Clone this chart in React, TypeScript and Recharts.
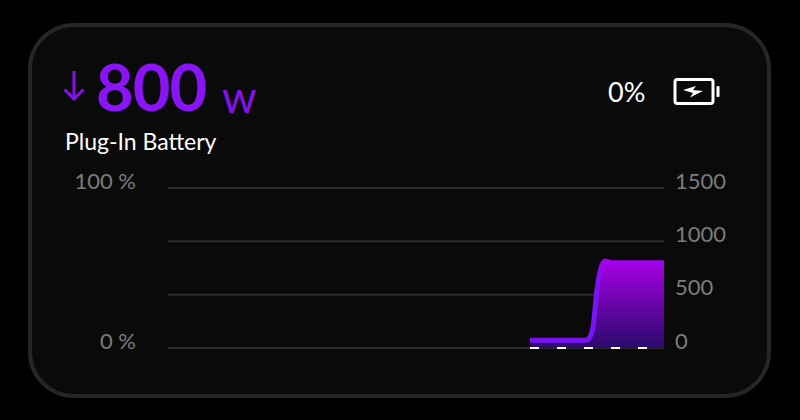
import React from 'react';
import { ComposedChart, Area, Line, XAxis, YAxis, CartesianGrid } from 'recharts';

// minutes across the window, only the tail has readings
const times = [181, 190, 200, 209, 210.5, 212.5, 214.5, 216, 218.5, 222, 235, 248];
const watts = [72, 72, 72, 72, 90, 197, 544, 712, 815, 800, 800, 800];
const percent = [0, 0, 0, 0, 0, 0, 0, 0, 0, 0, 0, 0];

const percentTicks = [0, 100];
const wattTicks = [0, 500, 1000, 1500];

const chartData = times.map((t, i) => ({ t, watts: watts[i], percent: percent[i] }));

const FONT = 'Lato, sans-serif';

const AxisLabel = ({ x, y, payload, textAnchor, suffix }: any) => (
    <text x={x} y={y} dy={-8} dominantBaseline="central" textAnchor={textAnchor} fill="#7c7c7c" fontSize={22} fontFamily={FONT}>
        {payload.value}{suffix}
    </text>
);

const place = (left: number, top: number, extra: React.CSSProperties): React.CSSProperties => ({
    position: 'absolute',
    left,
    top,
    lineHeight: 1,
    fontFamily: FONT,
    whiteSpace: 'nowrap',
    ...extra,
});

export default function App() {
    return (
        <div style={{ position: 'fixed', left: 0, top: 0, width: 800, height: 420, background: '#000', overflow: 'hidden' }}>
            <div style={{ position: 'absolute', left: 28, top: 23, width: 743, height: 375, boxSizing: 'border-box', border: '4px solid #262626', borderRadius: 46, background: '#0a0a0a' }} />

            <svg width={24} height={34} style={{ position: 'absolute', left: 62, top: 69 }} fill="none" stroke="#8412f0" strokeWidth={3}>
                <path d="M12 2 V30 M2.5 20.5 L12 30 L21.5 20.5" />
            </svg>
            <div style={place(96, 54, { fontSize: 65, fontWeight: 700, color: '#8a14f5', letterSpacing: -1 })}>800</div>
            <div style={place(222, 74, { fontSize: 44, color: '#8412ea' })}>w</div>
            <div style={place(65, 130, { fontSize: 23, color: '#fff' })}>Plug-In Battery</div>
            <div style={place(608, 78, { fontSize: 27, color: '#fff' })}>0%</div>

            <svg width={48} height={28} style={{ position: 'absolute', left: 673, top: 78 }} fill="none">
                <rect x={2} y={1.5} width={38} height={24} rx={2.5} stroke="#fff" strokeWidth={3} />
                <rect x={43.5} y={8} width={3} height={11} rx={1} fill="#fff" />
                <path d="M10 12 L23 8 L20 12 L30 13 L17 19.5 L20 15 Z" fill="#fff" />
            </svg>

            <div style={{ position: 'absolute', left: 0, top: 0 }}>
                <ComposedChart width={800} height={420} data={chartData} margin={{ top: 188, right: 0, bottom: 72, left: 0 }}>
                    <defs>
                        <linearGradient id="fill-watts" x1="0" y1="0" x2="0" y2="1">
                            <stop offset="0%" stopColor="#a600e4" />
                            <stop offset="100%" stopColor="#2a0a6c" />
                        </linearGradient>
                        <linearGradient id="stroke-watts" x1="0" y1="0" x2="0" y2="1">
                            <stop offset="0%" stopColor="#a400ee" />
                            <stop offset="15%" stopColor="#8a0cf2" />
                            <stop offset="45%" stopColor="#7a14f4" />
                            <stop offset="100%" stopColor="#7a14f4" />
                        </linearGradient>
                    </defs>
                    <CartesianGrid yAxisId="watts" horizontal vertical={false} stroke="#2a2a2a" strokeWidth={2} />
                    <XAxis dataKey="t" type="number" domain={[0, 248]} hide />
                    <YAxis
                        yAxisId="percent"
                        orientation="left"
                        width={168}
                        domain={[0, 100]}
                        ticks={percentTicks}
                        axisLine={false}
                        tickLine={false}
                        tickSize={0}
                        tickMargin={32}
                        tick={<AxisLabel suffix=" %" />}
                    />
                    <YAxis
                        yAxisId="watts"
                        orientation="right"
                        width={136}
                        domain={[0, 1500]}
                        ticks={wattTicks}
                        axisLine={false}
                        tickLine={false}
                        tickSize={0}
                        tickMargin={11}
                        tick={<AxisLabel suffix="" />}
                    />
                    <Area
                        yAxisId="watts"
                        type="monotone"
                        dataKey="watts"
                        stroke="url(#stroke-watts)"
                        strokeWidth={5}
                        fill="url(#fill-watts)"
                        fillOpacity={1}
                        dot={false}
                        isAnimationActive={false}
                    />
                    <Line
                        yAxisId="percent"
                        type="linear"
                        dataKey="percent"
                        stroke="#ffffff"
                        strokeWidth={2}
                        strokeDasharray="9 18"
                        dot={false}
                        isAnimationActive={false}
                    />
                </ComposedChart>
            </div>
        </div>
    );
}
